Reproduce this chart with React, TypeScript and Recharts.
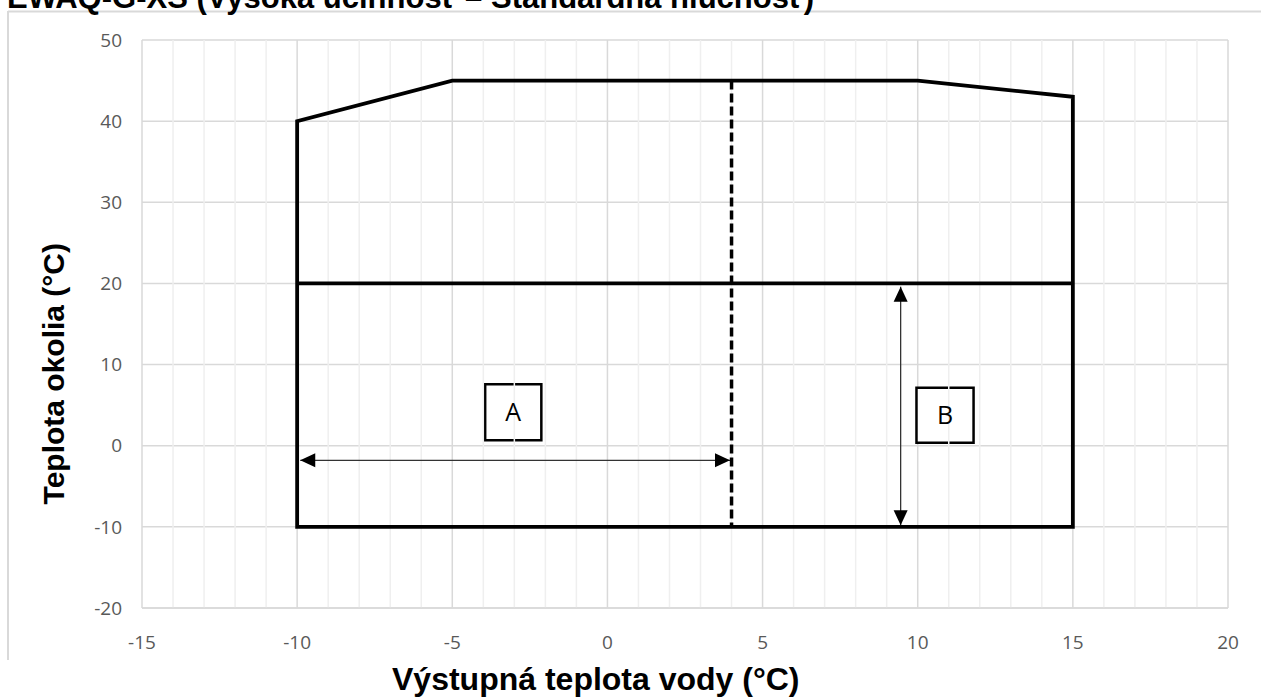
import {
  CartesianGrid,
  Line,
  LineChart,
  ReferenceArea,
  ReferenceLine,
  XAxis,
  YAxis,
} from "recharts";

const xTicks = [-15, -10, -5, 0, 5, 10, 15, 20];
const xMinorTicks = [
  -14, -13, -12, -11, -9, -8, -7, -6, -4, -3, -2, -1, 1, 2, 3, 4, 6, 7, 8, 9,
  11, 12, 13, 14, 16, 17, 18, 19,
];
const yTicks = [-20, -10, 0, 10, 20, 30, 40, 50];

// operating envelope, leaving water temp (x) vs ambient temp (y)
const envelope = [
  { x: -10, y: -10 },
  { x: -10, y: 40 },
  { x: -5, y: 45 },
  { x: 10, y: 45 },
  { x: 15, y: 43 },
  { x: 15, y: -10 },
  { x: -10, y: -10 },
];
const splitLine = [
  { x: -10, y: 20 },
  { x: 15, y: 20 },
];
const limitLine = [
  { x: 4, y: 45 },
  { x: 4, y: -10 },
];
const arrowA = [
  { x: -9.9, y: -1.8 },
  { x: 3.95, y: -1.8 },
];
const arrowB = [
  { x: 9.45, y: 19.6 },
  { x: 9.45, y: -9.8 },
];
const boxes = [
  { label: "A", x1: -3.94, x2: -2.13, y1: 0.66, y2: 7.57 },
  { label: "B", x1: 9.96, x2: 11.8, y1: 0.37, y2: 7.15 },
];

const tickStyle = { fill: "#595959", fontSize: 19, fontFamily: "Open Sans" };
const titleFont = "Liberation Sans, Arial, sans-serif";

function arrowHeads(dirs: string[]) {
  return (props: any) => {
    const { cx, cy, index } = props;
    const len = 15;
    const half = 7;
    const d = dirs[index];
    let pts = "";
    if (d === "left") pts = `${cx},${cy} ${cx + len},${cy - half} ${cx + len},${cy + half}`;
    if (d === "right") pts = `${cx},${cy} ${cx - len},${cy - half} ${cx - len},${cy + half}`;
    if (d === "up") pts = `${cx},${cy} ${cx - half},${cy + len} ${cx + half},${cy + len}`;
    if (d === "down") pts = `${cx},${cy} ${cx - half},${cy - len} ${cx + half},${cy - len}`;
    return <polygon key={`ah-${index}`} points={pts} fill="#000" />;
  };
}

export default function App() {
  return (
    <div
      style={{
        position: "absolute",
        left: 0,
        top: 0,
        width: 1261,
        height: 698,
        overflow: "hidden",
        background: "#fff",
      }}
    >
      <div style={{ position: "absolute", left: 0, top: 0 }}>
        <LineChart
          width={1261}
          height={698}
          margin={{ top: 40, right: 33, bottom: 30, left: 82 }}
        >
          <XAxis
            type="number"
            dataKey="x"
            domain={[-15, 20]}
            ticks={xTicks}
            allowDataOverflow
            height={60}
            axisLine={{ stroke: "#d9d9d9", strokeWidth: 1.5 }}
            tickLine={false}
            tickSize={0}
            tickMargin={28}
            tick={tickStyle}
          />
          <YAxis
            type="number"
            domain={[-20, 50]}
            ticks={yTicks}
            allowDataOverflow
            width={60}
            axisLine={false}
            tickLine={false}
            tickSize={0}
            tickMargin={20}
            tick={tickStyle}
          />
          {xMinorTicks.map((t) => (
            <ReferenceLine key={t} x={t} stroke="#efefef" strokeWidth={1.5} />
          ))}
          <CartesianGrid stroke="#d9d9d9" strokeWidth={1.5} />
          {boxes.map((b) => (
            <ReferenceArea
              key={b.label}
              x1={b.x1}
              x2={b.x2}
              y1={b.y1}
              y2={b.y2}
              fill="#fff"
              fillOpacity={1}
              stroke="#000"
              strokeWidth={2.5}
              label={{
                value: b.label,
                position: "center",
                fontSize: 25,
                fill: "#000",
                fontFamily: "Open Sans",
              }}
            />
          ))}
          <Line
            data={arrowA}
            dataKey="y"
            type="linear"
            stroke="#333"
            strokeWidth={1.3}
            dot={arrowHeads(["left", "right"])}
            activeDot={false}
            isAnimationActive={false}
          />
          <Line
            data={arrowB}
            dataKey="y"
            type="linear"
            stroke="#333"
            strokeWidth={1.3}
            dot={arrowHeads(["up", "down"])}
            activeDot={false}
            isAnimationActive={false}
          />
          <Line
            data={limitLine}
            dataKey="y"
            type="linear"
            stroke="#000"
            strokeWidth={3.5}
            strokeDasharray="9 4"
            dot={false}
            activeDot={false}
            isAnimationActive={false}
          />
          <Line
            data={splitLine}
            dataKey="y"
            type="linear"
            stroke="#000"
            strokeWidth={3.8}
            dot={false}
            activeDot={false}
            isAnimationActive={false}
          />
          <Line
            data={envelope}
            dataKey="y"
            type="linear"
            stroke="#000"
            strokeWidth={3.8}
            strokeLinejoin="miter"
            strokeLinecap="square"
            dot={false}
            activeDot={false}
            isAnimationActive={false}
          />
        </LineChart>
      </div>
      <svg
        width={1261}
        height={698}
        style={{ position: "absolute", left: 0, top: 0, pointerEvents: "none" }}
      >
        <line x1={8} y1={11.5} x2={1261} y2={11.5} stroke="#d9d9d9" strokeWidth={2} />
        <line x1={8} y1={11} x2={8} y2={660} stroke="#d9d9d9" strokeWidth={2} />
        <text x={7} y={8} fontFamily={titleFont} fontWeight="bold" fontSize={31} fill="#000">
          EWAQ-G-XS (Vysoká účinnosť – Štandardná hlučnosť)
        </text>
        <text x={392} y={690} fontFamily={titleFont} fontWeight="bold" fontSize={32} fill="#000">
          Výstupná teplota vody (°C)
        </text>
        <text
          x={64}
          y={243}
          transform="rotate(-90 64 243)"
          textAnchor="end"
          fontFamily={titleFont}
          fontWeight="bold"
          fontSize={30}
          fill="#000"
        >
          Teplota okolia (°C)
        </text>
      </svg>
    </div>
  );
}
